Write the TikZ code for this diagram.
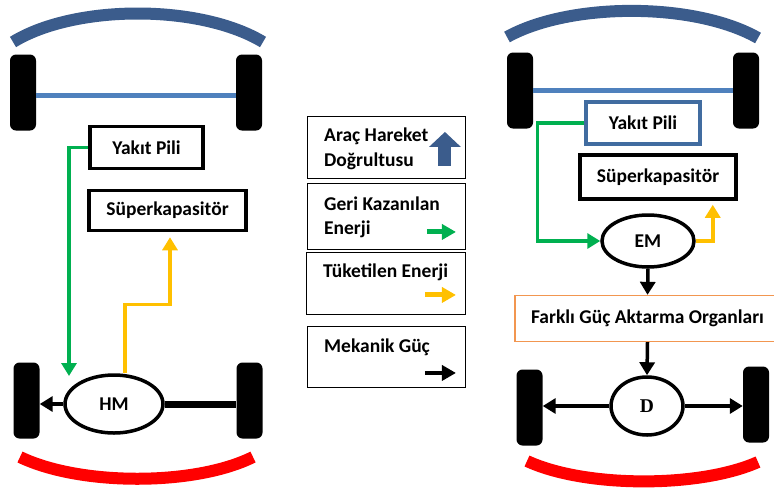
\documentclass[tikz,border=0pt]{standalone}
\usepackage{fontspec}
\setmainfont{Carlito}
\newfontfamily\dfont{Liberation Serif}
\usepackage{tikz}
\usetikzlibrary{shapes.geometric, arrows.meta}
\usepackage{xcolor}
\definecolor{koyumavi}{RGB}{59,92,140}
\definecolor{acikmavi}{RGB}{79,129,189}
\definecolor{cerceve}{RGB}{65,108,160}
\definecolor{yesil}{RGB}{0,176,80}
\definecolor{sari}{RGB}{255,192,0}
\definecolor{kirmizi}{RGB}{255,0,0}
\definecolor{turuncu}{RGB}{242,150,80}
\newcommand{\yazi}{\bfseries\fontsize{19.5}{24.5}\selectfont}

\begin{document}
\begin{tikzpicture}[x = 1pt, y = -1pt,
    teker/.style = {fill = black, rounded corners = 6pt, minimum width = 26pt, minimum height = 76pt, inner sep = 0pt},
    kutu/.style = {draw, line width = 3.5pt, fill = white, font = \yazi, inner sep = 0pt},
    motor/.style = {ellipse, draw, line width = 3.5pt, fill = white, font = \yazi, inner sep = 0pt},
    lejant/.style = {draw, line width = 0.9pt, inner sep = 0pt},
    metin/.style = {anchor = west, align = left, inner sep = 0pt, font = \yazi},
    yesilok/.style = {yesil, line width = 3.5pt, -{Triangle[width = 15pt, length = 13pt]}},
    sariok/.style = {sari, line width = 3.5pt, -{Triangle[width = 15pt, length = 13pt]}},
    siyahok/.style = {black, line width = 3.5pt, -{Triangle[width = 15pt, length = 13pt]}}
]
    % Parametri
    \pgfmathsetmacro{\kalin}{12}
    \useasboundingbox (0,0) rectangle (774,491);
    % Sol arac
    \draw[koyumavi, line width = \kalin pt] (13,42) .. controls (75,4) and (200,4) .. (263,42);
    \draw[kirmizi, line width = \kalin pt] (20,457) .. controls (80,486) and (195,486) .. (253,457);
    \node[teker] (lt1) at (23,92.5) {};
    \node[teker] (rt1) at (249,92.5) {};
    \node[teker] (lt2) at (26.5,400.5) {};
    \node[teker] (rt2) at (249.5,400.5) {};
    \draw[acikmavi, line width = 5pt] (lt1.east |- 0,95) -- (rt1.west |- 0,95);
    \node[kutu, minimum width = 113pt, minimum height = 42pt] (yp1) at (146.5,147.5) {Yakıt Pili};
    \node[kutu, minimum width = 157pt, minimum height = 40pt] (sk1) at (167.5,210.5) {Süperkapasitör};
    \node[motor, minimum width = 98pt, minimum height = 58pt] (hm) at (114,404) {HM};
    \coordinate (g1) at (69,376);
    \draw[yesilok] (yp1.west) -| (g1);
    \draw[sariok] ([xshift = 11pt]hm.north) -- ++(0,-69) -| ([xshift = 2.5pt, yshift = -5pt]sk1.south);
    \draw[siyahok] (hm.west) -- (hm.west -| lt2.east);
    \draw[line width = 7pt] (hm.east) -- (hm.east -| rt2.west);
    % Lejant
    \node[lejant, minimum width = 158pt, minimum height = 62pt] (lg1) at (386.5,147.5) {};
    \node[lejant, minimum width = 158pt, minimum height = 66pt] (lg2) at (386.5,216.5) {};
    \node[lejant, minimum width = 159pt, minimum height = 62pt] (lg3) at (386,283.5) {};
    \node[lejant, minimum width = 158pt, minimum height = 61pt] (lg4) at (386.5,357) {};
    \node[metin] (t1) at (324,149) {Araç Hareket\\Doğrultusu};
    \node[metin] (t2) at (324,217.5) {Geri Kazanılan\\Enerji};
    \node[metin] (t3) at (323,272) {Tüketilen Enerji};
    \node[metin] (t4) at (324,347) {Mekanik Güç};
    \draw[koyumavi, line width = 13pt, -{Triangle[width = 31pt, length = 15pt]}] ([xshift = -21pt, yshift = 13pt]lg1.south east) -- ([xshift = -21pt, yshift = 47pt]lg1.south east);
    \draw[yesil, line width = 5pt, -{Triangle[width = 15pt, length = 14pt]}] ([xshift = -39pt, yshift = 18pt]lg2.south east) -- ([xshift = -10pt, yshift = 18pt]lg2.south east);
    \draw[sari, line width = 5pt, -{Triangle[width = 15pt, length = 14pt]}] ([xshift = -41pt, yshift = 20pt]lg3.south east) -- ([xshift = -10pt, yshift = 20pt]lg3.south east);
    \draw[black, line width = 4pt, -{Triangle[width = 15pt, length = 14pt]}] ([xshift = -41pt, yshift = 15pt]lg4.south east) -- ([xshift = -10pt, yshift = 15pt]lg4.south east);
    % Sag arac
    \draw[koyumavi, line width = \kalin pt] (507,37) .. controls (570,2) and (695,2) .. (758,38);
    \draw[kirmizi, line width = \kalin pt] (527,461) .. controls (585,488) and (700,488) .. (758,462);
    \node[teker] (lt3) at (520,90.5) {};
    \node[teker] (rt3) at (746,90.5) {};
    \node[teker] (lt4) at (529.5,407.5) {};
    \node[teker] (rt4) at (756,404.5) {};
    \draw[acikmavi, line width = 5pt] (lt3.east) -- (rt3.west);
    \node[kutu, draw = cerceve, minimum width = 114pt, minimum height = 42pt] (yp2) at (643,123) {Yakıt Pili};
    \node[kutu, minimum width = 156pt, minimum height = 44pt] (sk2) at (658,177) {Süperkapasitör};
    \node[motor, minimum width = 92pt, minimum height = 52pt] (em) at (648,241) {EM};
    \node[draw = turuncu, line width = 1.3pt, fill = white, font = \yazi, minimum width = 265pt, minimum height = 46pt, inner sep = 0pt] (fg) at (647.5,318.5) {Farklı Güç Aktarma Organları};
    \node[motor, minimum width = 72pt, minimum height = 58pt, font = \dfont\bfseries\fontsize{19.5}{24}\selectfont] (d) at (647,406) {D};
    \draw[yesilok] (yp2.west) -- ++(-47,0) |- (em.west);
    \draw[sariok] (em.east) -| ([xshift = -25pt, yshift = -4pt]sk2.south east);
    \draw[siyahok] (em.south) -- (fg.north);
    \draw[siyahok] (fg.south) -- (d.north);
    \draw[siyahok] (d.west) -- (d.west -| lt4.east);
    \draw[siyahok] (d.east) -- (d.east -| rt4.west);
\end{tikzpicture}
\end{document}
